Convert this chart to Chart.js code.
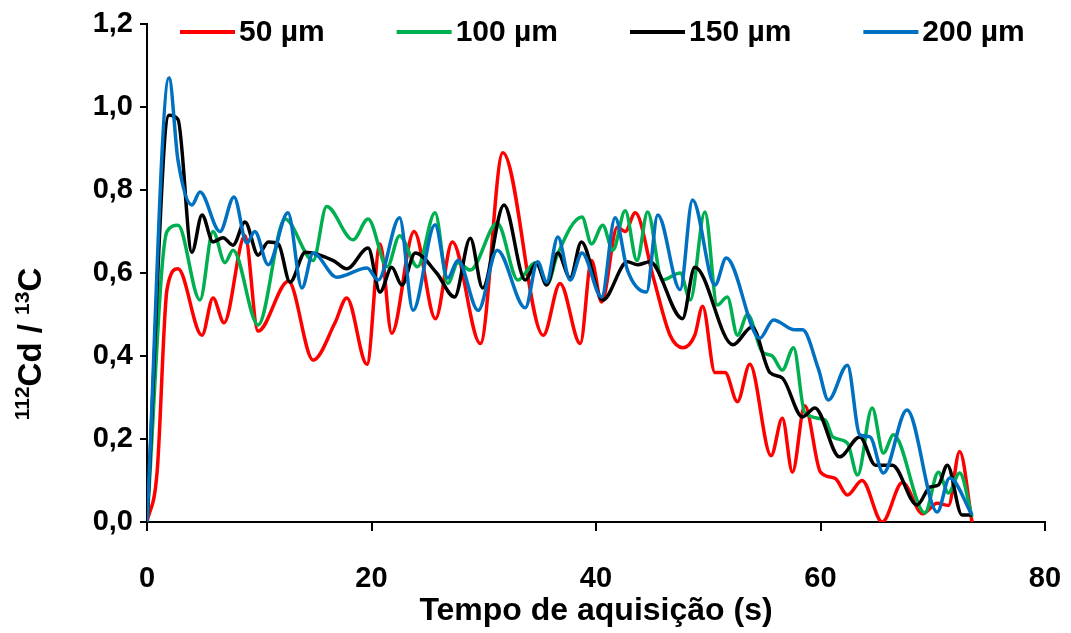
<!DOCTYPE html>
<html>
<head>
<meta charset="utf-8">
<script src="https://cdn.jsdelivr.net/npm/chart.js@4.4.1/dist/chart.umd.min.js"></script>
<style>
html,body{margin:0;padding:0;background:#fff;}
#wrap{width:1071px;height:633px;position:relative;}
</style>
</head>
<body>
<div id="wrap"><canvas id="c" width="1071" height="633"></canvas></div>
<script>
// ---- data ----
const seriesLabels = ['50 µm', '100 µm', '150 µm', '200 µm'];
const seriesColors = ['#FF0000', '#00B050', '#000000', '#0070C0'];

const t50 = [0, 0.9, 1.78, 2.76, 4.9, 5.88, 6.86, 8.73, 9.89, 12.6, 14.8, 16.75, 17.8, 19.6, 20.76, 21.8, 23.8, 25.7, 27.2, 29.7, 31.7, 35.3, 36.8, 38.6, 39.6, 40.5, 41.9, 42.6, 43.5, 45.1, 46.6, 47.75, 48.8, 49.5, 50.6, 51.5, 52.6, 53.7, 55.6, 56.6, 57.5, 58.6, 60.0, 61.3, 62.4, 63.7, 65.5, 67.3, 69.1, 70.4, 71.4, 72.4, 73.5];
const v50 = [0, 0.12, 0.56, 0.61, 0.45, 0.54, 0.48, 0.69, 0.46, 0.58, 0.39, 0.48, 0.54, 0.38, 0.67, 0.455, 0.70, 0.49, 0.675, 0.43, 0.89, 0.45, 0.575, 0.43, 0.63, 0.53, 0.71, 0.70, 0.745, 0.59, 0.45, 0.42, 0.45, 0.52, 0.36, 0.36, 0.29, 0.38, 0.16, 0.25, 0.12, 0.28, 0.12, 0.105, 0.065, 0.10, 0.0, 0.095, 0.02, 0.045, 0.04, 0.17, 0.0];

const t100 = [0, 1.78, 2.76, 4.72, 5.88, 6.95, 7.66, 9.9, 12.3, 14.8, 16.0, 18.35, 19.7, 21.4, 22.5, 24.1, 25.66, 26.8, 27.7, 28.8, 31.2, 33.05, 34.6, 35.7, 36.5, 38.75, 39.6, 40.6, 41.5, 42.6, 43.65, 44.6, 45.9, 47.5, 48.4, 49.7, 50.8, 51.7, 52.6, 53.5, 54.8, 55.7, 56.6, 57.6, 58.6, 60.4, 61.1, 62.4, 63.3, 64.6, 65.6, 66.5, 69.3, 70.5, 71.4, 72.4, 73.5];
const v100 = [0, 0.70, 0.715, 0.535, 0.70, 0.625, 0.655, 0.475, 0.73, 0.63, 0.76, 0.68, 0.73, 0.615, 0.69, 0.615, 0.745, 0.575, 0.625, 0.607, 0.72, 0.583, 0.625, 0.575, 0.64, 0.735, 0.67, 0.715, 0.655, 0.75, 0.63, 0.747, 0.583, 0.60, 0.535, 0.747, 0.523, 0.542, 0.45, 0.50, 0.41, 0.40, 0.366, 0.42, 0.263, 0.246, 0.205, 0.19, 0.113, 0.275, 0.166, 0.21, 0.022, 0.12, 0.07, 0.118, 0.012];

const t150 = [0, 1.96, 2.76, 4.0, 4.9, 5.88, 6.77, 7.66, 8.73, 9.9, 10.8, 11.7, 12.74, 14.1, 16.6, 17.8, 19.7, 20.76, 21.8, 22.7, 23.9, 25.8, 27.4, 28.8, 29.9, 31.8, 33.7, 34.7, 35.6, 36.6, 37.7, 38.7, 40.6, 42.8, 43.7, 44.8, 47.7, 48.8, 52.2, 53.9, 55.5, 56.6, 58.4, 59.5, 61.7, 63.5, 64.9, 66.4, 68.6, 69.75, 70.5, 71.3, 72.6, 73.5];
const v150 = [0, 0.98, 0.97, 0.65, 0.74, 0.675, 0.685, 0.667, 0.723, 0.643, 0.675, 0.67, 0.578, 0.65, 0.63, 0.61, 0.66, 0.554, 0.614, 0.571, 0.648, 0.60, 0.542, 0.684, 0.564, 0.764, 0.583, 0.624, 0.571, 0.648, 0.588, 0.675, 0.535, 0.627, 0.62, 0.627, 0.49, 0.614, 0.427, 0.47, 0.36, 0.347, 0.253, 0.275, 0.157, 0.205, 0.137, 0.137, 0.041, 0.084, 0.089, 0.137, 0.017, 0.017];

const t200 = [0, 1.96, 2.76, 4.0, 4.72, 6.5, 7.75, 8.9, 9.6, 10.8, 12.56, 13.8, 14.8, 16.9, 19.6, 20.6, 22.5, 23.7, 25.66, 26.8, 27.7, 29.5, 31.2, 33.7, 34.8, 35.6, 36.6, 37.7, 38.75, 40.5, 41.7, 42.8, 44.5, 45.5, 47.5, 48.6, 50.6, 51.6, 54.6, 55.8, 57.7, 58.4, 59.8, 60.7, 62.4, 63.5, 64.4, 65.6, 67.7, 70.4, 71.5, 73.5];
const v200 = [0, 1.07, 0.872, 0.764, 0.795, 0.70, 0.783, 0.672, 0.70, 0.62, 0.745, 0.564, 0.648, 0.59, 0.612, 0.583, 0.733, 0.51, 0.716, 0.588, 0.631, 0.51, 0.655, 0.516, 0.627, 0.578, 0.687, 0.583, 0.648, 0.542, 0.733, 0.607, 0.554, 0.74, 0.56, 0.776, 0.571, 0.636, 0.443, 0.487, 0.463, 0.463, 0.37, 0.294, 0.378, 0.21, 0.205, 0.118, 0.27, 0.024, 0.106, 0.017];

const xTickValues = [0, 20, 40, 60, 80];
const yTickLabels = ['0,0', '0,2', '0,4', '0,6', '0,8', '1,0', '1,2'];
const xTitle = 'Tempo de aquisição (s)';
const yTitleParts = [['112', true], ['Cd / ', false], ['13', true], ['C', false]];

// ---- chart ----
const FONT = '"Liberation Sans", Arial, sans-serif';
const times = [t50, t100, t150, t200];
const values = [v50, v100, v150, v200];

const datasets = seriesLabels.map((lab, i) => ({
  label: lab,
  data: times[i].map((t, k) => ({x: t, y: values[i][k]})),
  borderColor: seriesColors[i],
  backgroundColor: seriesColors[i],
  borderWidth: 3.5,
  pointRadius: 0,
  fill: false,
  cubicInterpolationMode: 'monotone',
  order: seriesLabels.length - 1 - i
}));

const topLegend = {
  id: 'topLegend',
  afterDraw(chart) {
    const ctx = chart.ctx;
    ctx.save();
    ctx.font = 'bold 30px ' + FONT;
    ctx.textBaseline = 'middle';
    ctx.textAlign = 'left';
    let x = 180;
    const y = 32;
    chart.data.datasets.forEach(ds => {
      ctx.strokeStyle = ds.borderColor;
      ctx.lineWidth = 4;
      ctx.beginPath();
      ctx.moveTo(x, y);
      ctx.lineTo(x + 55, y);
      ctx.stroke();
      ctx.fillStyle = '#000';
      ctx.fillText(ds.label, x + 59, y + 1);
      x += 59 + ctx.measureText(ds.label).width + 72;
    });
    ctx.restore();
  }
};

const yTitle = {
  id: 'yTitle',
  afterDraw(chart) {
    const ctx = chart.ctx;
    ctx.save();
    ctx.translate(41, 344);
    ctx.rotate(-Math.PI / 2);
    ctx.fillStyle = '#000';
    ctx.textBaseline = 'alphabetic';
    ctx.textAlign = 'left';
    const big = 'bold 33px ' + FONT, small = 'bold 21px ' + FONT;
    let total = 0;
    yTitleParts.forEach(([t, sup]) => { ctx.font = sup ? small : big; total += ctx.measureText(t).width; });
    let x = -total / 2;
    yTitleParts.forEach(([t, sup]) => {
      ctx.font = sup ? small : big;
      ctx.fillText(t, x, sup ? -12 : 0);
      x += ctx.measureText(t).width;
    });
    ctx.restore();
  }
};

new Chart(document.getElementById('c'), {
  type: 'line',
  data: {datasets},
  options: {
    responsive: false,
    devicePixelRatio: 1,
    animation: false,
    layout: {padding: {left: 0, right: 26, top: 24, bottom: 0}},
    plugins: {legend: {display: false}, tooltip: {enabled: false}},
    scales: {
      x: {
        type: 'linear', min: 0, max: 80,
        afterBuildTicks(scale) { scale.ticks = xTickValues.map(v => ({value: v})); },
        afterFit(scale) { scale.height = 111; scale.paddingLeft = 0; scale.paddingRight = 0; },
        grid: {drawOnChartArea: false, drawTicks: true, tickLength: 9, color: '#000', lineWidth: 2},
        border: {color: '#000', width: 2},
        ticks: {color: '#000', font: {family: FONT, size: 29, weight: 'bold'}, padding: 31, maxRotation: 0},
        title: {display: true, text: xTitle, color: '#000', font: {family: FONT, size: 32, weight: 'bold'}, padding: {top: 0, bottom: 3}}
      },
      y: {
        min: 0, max: 1.2,
        afterBuildTicks(scale) { scale.ticks = yTickLabels.map((l, i) => ({value: i * 0.2})); },
        afterFit(scale) { scale.width = 147; scale.paddingTop = 0; scale.paddingBottom = 0; },
        grid: {drawOnChartArea: false, drawTicks: true, tickLength: 7, color: '#000', lineWidth: 2},
        border: {color: '#000', width: 2},
        ticks: {color: '#000', font: {family: FONT, size: 29, weight: 'bold'}, padding: 7,
                callback: (v, i) => yTickLabels[i]}
      }
    }
  },
  plugins: [topLegend, yTitle]
});
</script>
</body>
</html>
